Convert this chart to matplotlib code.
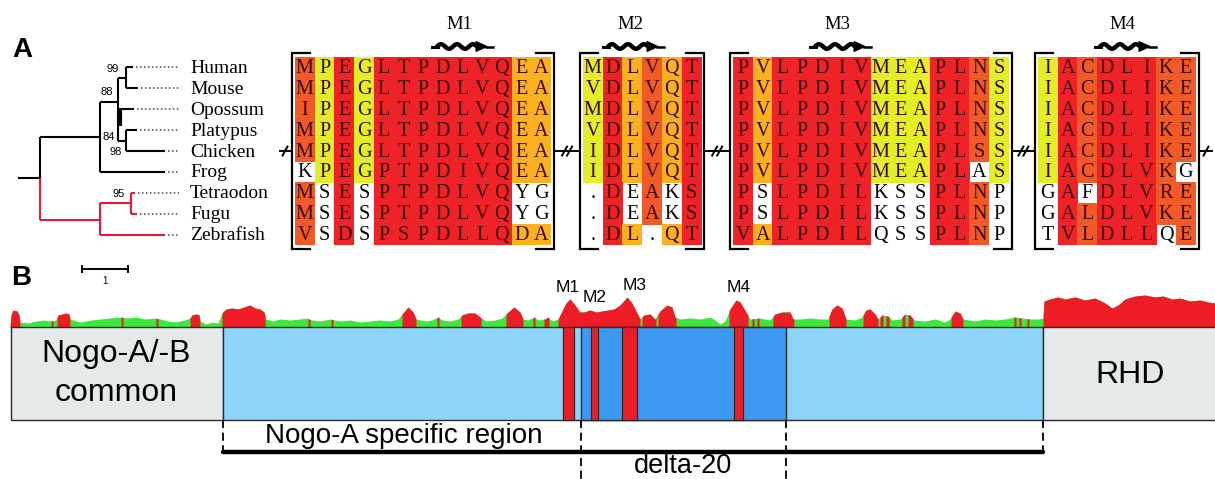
import numpy as np
import matplotlib
matplotlib.use("Agg")
import matplotlib.pyplot as plt
from matplotlib.patches import Rectangle, Polygon

# ---------------- data ----------------
species = ["Human", "Mouse", "Opossum", "Platypus", "Chicken", "Frog",
           "Tetraodon", "Fugu", "Zebrafish"]
bootstrap = ["99", "88", "84", "98", "95"]
motifs = ["M1", "M2", "M3", "M4"]

block1_seq = ["MPEGLTPDLVQEA", "MPEGLTPDLVQEA", "IPEGLTPDLVQEA", "MPEGLTPDLVQEA",
              "MPEGLTPDLVQEA", "KPEGPTPDIVQEA", "MSESPTPDLVQYG", "MSESPTPDLVQYG",
              "VSDSPSPDLLQDA"]
block1_cls = ["OYRYRRRRRRRAA", "OYRYRRRRRRRAA", "OYRYRRRRRRRAA", "OYRYRRRRRRRAA",
              "OYRYRRRRRRRAA", "WYRYRRRRRRRAA", "OWRWRRRRRRRWW", "OWRWRRRRRRRWW",
              "OWRWRRRRRRRAA"]
block2_seq = ["MDLVQT", "VDLVQT", "MDLVQT", "VDLVQT", "IDLVQT", "IDLVQT",
              ".DEAKS", ".DEAKS", ".DL.QT"]
block2_cls = ["YRAOAR", "YRAOAR", "YRAOAR", "YRAOAR", "YRAOAR", "YRAOAR",
              "WRWOWR", "WRWOWR", "WRAWAR"]
block3_seq = ["PVLPDIVMEAPLNS", "PVLPDIVMEAPLNS", "PVLPDIVMEAPLNS", "PVLPDIVMEAPLNS",
              "PVLPDIVMEAPLSS", "PVLPDIVMEAPLAS", "PSLPDILKSSPLNP", "PSLPDILKSSPLNP",
              "VALPDILQSSPLNP"]
block3_cls = ["RARRRRRYYYRROY", "RARRRRRYYYRROY", "RARRRRRYYYRROY", "RARRRRRYYYRROY",
              "RARRRRRYYYRROY", "RARRRRRYYYRRWY", "RWRRRRRWWWRROW", "RWRRRRRWWWRROW",
              "RARRRRRWWWRROW"]
block4_seq = ["IACDLIKE", "IACDLIKE", "IACDLIKE", "IACDLIKE", "IACDLIKE", "IACDLVKG",
              "GAFDLVRE", "GALDLVKE", "TVLDLLQE"]
block4_cls = ["YRORRROO", "YRORRROO", "YRORRROO", "YRORRROO", "YRORRROO", "YRORRROW",
              "WRWRRROO", "WRORRROO", "WRORRRWO"]

# panel B: domain boundaries (protein map coordinates) and conservation profile
common_end = 222.7
delta_start, delta_end = 580.7, 785.7
rhd_start = 1043.3
motif_bars = [(562.7, 574.0), (590.7, 598.3), (621.7, 636.7), (734.3, 743.3)]

prof_x = [10, 11, 13, 17, 19, 20, 28, 36, 44, 50, 56, 58, 62, 66, 69, 70, 80, 92, 100, 110,
          120, 128, 136, 145, 155, 160, 168, 176, 185, 190, 192, 196, 199, 200, 206, 212, 218, 222,
          226, 232, 238, 244, 250, 255, 260, 264, 266, 272, 280, 290, 300, 306, 312, 320, 330,
          340, 350, 360, 370, 380, 390, 398, 403, 408, 413, 416, 425, 432, 438, 442, 450, 458,
          462, 468, 475, 480, 486, 495, 502, 507, 514, 520, 523, 528, 534, 538, 545, 548, 552,
          558, 562, 566, 570, 575, 580, 584, 590, 596, 602, 608, 614, 620, 627, 632, 636, 640,
          644, 650, 655, 660, 667, 672, 675, 680, 690, 700, 710, 715, 720, 725, 730, 736, 740,
          746, 750, 760, 770, 775, 782, 790, 793, 800, 810, 820, 828, 832, 837, 842, 846, 855,
          862, 866, 870, 875, 878, 882, 888, 892, 900, 905, 910, 914, 925, 935, 945, 950, 955,
          960, 963, 975, 985, 995, 1005, 1015, 1022, 1030, 1038, 1043, 1044, 1050, 1058, 1065,
          1075, 1085, 1095, 1105, 1112, 1118, 1125, 1135, 1145, 1155, 1163, 1172, 1180, 1190,
          1200, 1208, 1215]
prof_h = [0, 12, 17, 16, 12, 5, 4, 6, 7, 6, 7, 12, 13, 14, 13, 8, 5, 7, 8, 9,
          10, 9, 10, 8, 9, 8, 6, 5, 7, 9, 12, 13, 12, 6, 3, 5, 4, 14,
          18, 19, 18, 20, 22, 19, 18, 15, 8, 6, 8, 7, 8, 9, 7, 6, 8,
          6, 7, 5, 6, 7, 6, 8, 14, 20, 15, 8, 6, 7, 10, 7, 6, 8,
          12, 14, 14, 10, 6, 7, 9, 14, 20, 15, 8, 7, 10, 7, 8, 10, 6,
          8, 16, 24, 28, 22, 15, 15, 17, 15, 16, 17, 18, 22, 30, 24, 16, 8,
          12, 13, 8, 16, 22, 20, 10, 8, 9, 8, 10, 7, 3, 6, 18, 27, 25,
          15, 8, 9, 7, 13, 15, 15, 8, 8, 9, 8, 8, 18, 22, 19, 8, 7,
          10, 17, 18, 13, 8, 12, 11, 7, 8, 13, 12, 7, 6, 8, 5, 8, 16,
          14, 8, 6, 8, 7, 8, 10, 9, 8, 8, 9, 26, 28, 30, 28,
          30, 27, 29, 24, 19, 22, 28, 31, 32, 30, 31, 28, 29, 26,
          27, 25, 24]
red_segments = [(10, 20), (51, 53), (57, 70), (121, 123), (156, 158), (190, 200),
                (222, 265), (308, 310), (331, 333), (402, 416), (437, 439), (461, 481),
                (506, 523), (533, 535), (544, 549), (558, 640), (642, 656), (658, 676),
                (729, 748), (752, 754), (757, 759), (773, 794), (829, 846), (863, 878),
                (880, 883), (886, 889), (902, 905), (908, 913), (951, 963), (1014, 1016),
                (1019, 1021), (1027, 1029), (1043, 1215)]

# ---------------- styling ----------------
cell_colors = {"R": "#EE2227", "O": "#F15A26", "A": "#FBB01F", "Y": "#E2EE27", "W": "white"}
SERIF = ["Liberation Serif", "DejaVu Serif"]
SANS = ["Liberation Sans", "DejaVu Sans"]
RED_TREE = "#E5173A"

fig = plt.figure(figsize=(12.15, 4.79), dpi=100)
ax = fig.add_axes([0, 0, 1, 1])
ax.set_xlim(0, 1215)
ax.set_ylim(479, 0)
ax.axis("off")

# ---------------- panel A ----------------
ax.text(22, 50, "A", fontsize=20, fontweight="bold", family=SANS, ha="center", va="center")

row_top, row_h = 57.0, 20.9
row_y = [row_top + row_h * (i + 0.5) for i in range(len(species))]

# tree
def seg(x0, y0, x1, y1, c="black", lw=1.5):
    ax.plot([x0, x1], [y0, y1], color=c, lw=lw, solid_capstyle="butt")

yH, yM, yO, yP, yC, yF, yT, yFu, yZ = row_y
m_hm = (yH + yM) / 2
m_pc = (yP + yC) / 2
m_tf = (yT + yFu) / 2
seg(18, 178, 40, 178)
seg(40, 137, 40, 178)
seg(40, 178, 40, 220, RED_TREE)
seg(40, 137, 100, 137)
seg(100, 102, 100, yF)
seg(100, yF, 165, yF)
seg(100, 102, 118, 102)
seg(118, m_hm, 118, m_pc)
seg(118, m_hm, 126, m_hm)
seg(126, yH, 126, yM)
seg(126, yH, 133, yH)
seg(126, yM, 138, yM)
seg(118, yO, 134, yO)
seg(119.5, 108, 119.5, 126, lw=3)
seg(118, m_pc, 126, m_pc)
seg(126, yP, 126, yC)
seg(126, yP, 137, yP)
seg(126, yC, 165, yC)
seg(40, 220, 100, 220, RED_TREE)
seg(100, m_tf, 100, yZ, RED_TREE)
seg(100, m_tf, 131, m_tf, RED_TREE)
seg(131, yT, 131, yFu, RED_TREE)
seg(131, yT, 135, yT, RED_TREE)
seg(131, yFu, 137, yFu, RED_TREE)
seg(100, yZ, 165, yZ, RED_TREE)

tips = [133, 138, 134, 137, 165, 165, 135, 137, 165]
for y, tx in zip(row_y, tips):
    ax.plot([tx + 3, 179], [y, y], color="#444444", lw=1.1, ls=(0, (1, 1.6)))

for lab, (bx, by) in zip(bootstrap, [(113, 69), (107, 92), (109, 137), (116, 152), (119, 194)]):
    ax.text(bx, by, lab, fontsize=8, family=SANS, ha="center", va="center")

for name, y in zip(species, row_y):
    ax.text(190, y + 1, name, fontsize=14, family=SERIF, ha="left", va="center")

# alignment blocks
col_w = 19.7
blocks = [(295, block1_seq, block1_cls), (583, block2_seq, block2_cls),
          (733, block3_seq, block3_cls), (1038, block4_seq, block4_cls)]
br_top, br_bot, tick = 53, 249, 18
brk_y = row_top + row_h * 4.5
bounds = []
for x0, seqs, clss in blocks:
    ncol = len(seqs[0])
    for r, (s, c) in enumerate(zip(seqs, clss)):
        y = row_top + r * row_h
        for j, (ch, cc) in enumerate(zip(s, c)):
            x = x0 + j * col_w
            if cc != "W":
                ax.add_patch(Rectangle((x, y), col_w + 0.3, row_h + 0.3,
                                       facecolor=cell_colors[cc], edgecolor="none"))
            tc = "#3a0808" if cc != "W" else "black"
            ax.text(x + col_w / 2, y + row_h / 2 + 1, ch, fontsize=14.5, family=SERIF,
                    ha="center", va="center", color=tc)
    xl = x0 - 3
    xr = x0 + ncol * col_w + 3
    bounds.append((xl, xr))
    ax.plot([xl + tick, xl, xl, xl + tick], [br_top, br_top, br_bot, br_bot],
            color="black", lw=1.6, solid_joinstyle="miter")
    ax.plot([xr - tick, xr, xr, xr - tick], [br_top, br_top, br_bot, br_bot],
            color="black", lw=1.6, solid_joinstyle="miter")

# break markers
def slash(xc, yc):
    ax.plot([xc - 2.5, xc + 2.5], [yc + 4.5, yc - 4.5], color="black", lw=1.4)

ax.plot([280, bounds[0][0]], [brk_y, brk_y], color="black", lw=1.4)
slash(285, brk_y)
for (a, b), (c, d) in zip(bounds[:-1], bounds[1:]):
    ax.plot([b, c], [brk_y, brk_y], color="black", lw=1.4)
    xm = (b + c) / 2
    slash(xm - 2.5, brk_y)
    slash(xm + 2.5, brk_y)
ax.plot([bounds[-1][1], 1212], [brk_y, brk_y], color="black", lw=1.4)
slash(1206, brk_y)

# motif labels and wavy arrows
arrow_starts = [432, 603, 810, 1095]
for name, xs in zip(motifs, arrow_starts):
    ax.text(xs + 27, 24, name, fontsize=13.5, family=SERIF, ha="center", va="center")
    yc = 46.5
    ax.plot([xs, xs + 6], [yc, yc], color="black", lw=2.2)
    t = np.linspace(0, 1, 60)
    wx = xs + 5 + 40 * t
    wy = yc - 2.3 * np.sin(2 * np.pi * 2.5 * t)
    ax.plot(wx, wy, color="black", lw=3.2, solid_capstyle="round")
    ax.add_patch(Polygon([[xs + 44, yc - 5], [xs + 55, yc], [xs + 44, yc + 5]],
                         closed=True, facecolor="black", edgecolor="black", lw=0.8))
    ax.plot([xs + 54, xs + 61], [yc, yc], color="black", lw=1.8)

# ---------------- panel B ----------------
ax.text(21, 278, "B", fontsize=20, fontweight="bold", family=SANS, ha="center", va="center")
ax.plot([82, 128], [269, 269], color="black", lw=1.4)
ax.plot([82, 82], [266, 272], color="black", lw=1.4)
ax.plot([128, 128], [266, 272], color="black", lw=1.4)
ax.text(105, 281, "1", fontsize=7, family=SANS, ha="center", va="center")

base = 327.0
bar_bot = 420.0
px = np.array(prof_x, dtype=float)
ph = np.array(prof_h, dtype=float)
ax.fill_between(px, base, base - ph, color="#3BE83B", lw=0)
for a, b in red_segments:
    inside = (px > a) & (px < b)
    xs = np.concatenate([[a], px[inside], [b]])
    hs = np.interp(xs, px, ph)
    ax.fill_between(xs, base, base - hs, color="#EE1D25", lw=0)

edge = "#2b2b2b"
ax.add_patch(Rectangle((10.7, base), common_end - 10.7, bar_bot - base,
                       facecolor="#E5E9EA", edgecolor=edge, lw=1.0))
ax.add_patch(Rectangle((common_end, base), rhd_start - common_end, bar_bot - base,
                       facecolor="#8DD4F8", edgecolor=edge, lw=1.0))
ax.add_patch(Rectangle((delta_start, base), delta_end - delta_start, bar_bot - base,
                       facecolor="#3D98F0", edgecolor=edge, lw=1.0))
for a, b in motif_bars:
    ax.add_patch(Rectangle((a, base), b - a, bar_bot - base,
                           facecolor="#EE1D25", edgecolor=edge, lw=0.9))
ax.add_patch(Rectangle((rhd_start, base), 1230 - rhd_start, bar_bot - base,
                       facecolor="#E5E9EA", edgecolor=edge, lw=1.0))

ax.text(116, 354, "Nogo-A/-B", fontsize=23, family=SANS, ha="center", va="center")
ax.text(116, 393, "common", fontsize=23, family=SANS, ha="center", va="center")
ax.text(1130, 375, "RHD", fontsize=23, family=SANS, ha="center", va="center")

label_shift = [-1, 0, 5, 0]
label_y = [287, 297, 286, 288]
for (a, b), name, dx, ly in zip(motif_bars, motifs, label_shift, label_y):
    ax.text((a + b) / 2 + dx, ly, name, fontsize=12.5,
            family=SANS, ha="center", va="center")

dash = (0, (4.5, 2.5))
ax.plot([common_end, common_end], [bar_bot, 452], color="black", lw=1.3, ls=dash)
ax.plot([rhd_start, rhd_start], [bar_bot, 452], color="black", lw=1.3, ls=dash)
ax.plot([delta_start, delta_start], [bar_bot, 479], color="black", lw=1.3, ls=dash)
ax.plot([delta_end, delta_end], [bar_bot, 479], color="black", lw=1.3, ls=dash)
ax.plot([common_end, rhd_start], [452, 452], color="black", lw=3.2, solid_capstyle="round")

ax.text(404, 436, "Nogo-A specific region", fontsize=20,
        family=SANS, ha="center", va="center")
ax.text((delta_start + delta_end) / 2, 466, "delta-20", fontsize=19.5,
        family=SANS, ha="center", va="center")

fig.savefig("out.png", dpi=100)
